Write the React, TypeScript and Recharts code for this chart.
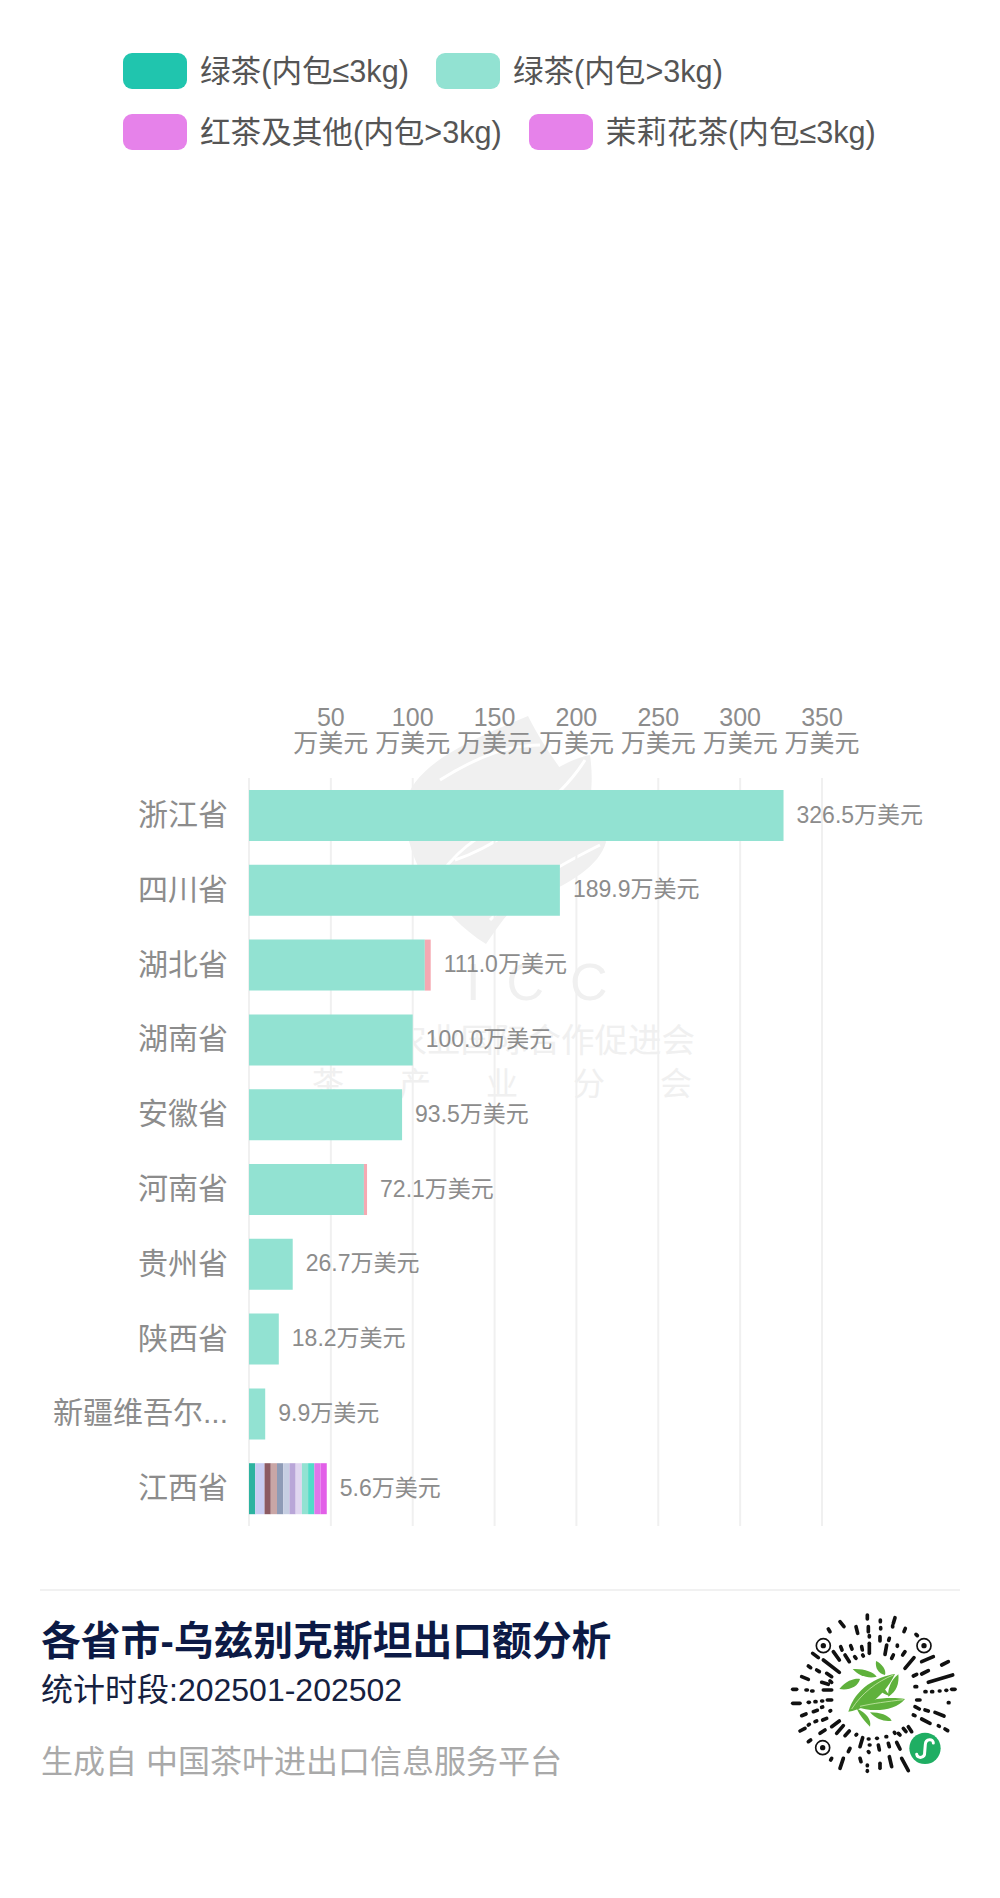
import React from 'react'
import { BarChart, Bar, XAxis, YAxis, CartesianGrid, LabelList, Legend } from 'recharts'

const FONT = '"Liberation Sans", "Noto Sans CJK SC", sans-serif'

const provinces = ['浙江省', '四川省', '湖北省', '湖南省', '安徽省', '河南省', '贵州省', '陕西省', '新疆维吾尔自治区', '江西省']
// the totals printed next to each bar
const totals = [326.5, 189.9, 111.0, 100.0, 93.5, 72.1, 26.7, 18.2, 9.9, 5.6]
const xTicks = [0, 50, 100, 150, 200, 250, 300, 350]

const greenSmall = [0, 0, 0, 0, 0, 0, 0, 0, 0, 3.8]
const lavender = [0, 0, 0, 0, 0, 0, 0, 0, 0, 5.7]
const maroon = [0, 0, 0, 0, 0, 0, 0, 0, 0, 3.8]
const rose = [0, 0, 0, 0, 0, 0, 0, 0, 0, 3.8]
const slate = [0, 0, 0, 0, 0, 0, 0, 0, 0, 3.8]
const paleSlate = [0, 0, 0, 0, 0, 0, 0, 0, 0, 3.8]
const lilac = [0, 0, 0, 0, 0, 0, 0, 0, 0, 3.8]
const paleLilac = [0, 0, 0, 0, 0, 0, 0, 0, 0, 3.8]
const greenLarge = [326.5, 189.9, 107.4, 100.0, 93.5, 70.2, 26.7, 18.2, 9.9, 3.8]
const turquoise = [0, 0, 0, 0, 0, 0, 0, 0, 0, 3.8]
const blackLarge = [0, 0, 0, 0, 0, 0, 0, 0, 0, 3.8]
const jasmineSmall = [0, 0, 0, 0, 0, 0, 0, 0, 0, 3.8]
const pink = [0, 0, 3.6, 0, 0, 1.9, 0, 0, 0, 0]

const seriesKeys = ['greenSmall', 'lavender', 'maroon', 'rose', 'slate', 'paleSlate', 'lilac', 'paleLilac', 'greenLarge', 'turquoise', 'blackLarge', 'jasmineSmall', 'pink']
const seriesColors = ['#2db3a0', '#c9ccf2', '#8c5a62', '#c9a6a6', '#8e9bb6', '#c6cee2', '#b9a6d8', '#e0d6f0', '#92e2d2', '#52dcc8', '#e076ea', '#e25fe8', '#f5a9b2']
const seriesValues = [greenSmall, lavender, maroon, rose, slate, paleSlate, lilac, paleLilac, greenLarge, turquoise, blackLarge, jasmineSmall, pink]

const legendNames = ['绿茶(内包≤3kg)', '绿茶(内包>3kg)', '红茶及其他(内包>3kg)', '茉莉花茶(内包≤3kg)']
const legendColors = ['#20c5ae', '#92e2d2', '#e682ea', '#e682ea']

const chartData = provinces.map((name, i) => {
  // anchor is a hair-thin invisible bar on the end of each stack, it only carries the label
  const row: Record<string, any> = { name, total: totals[i], anchor: 0.01 }
  seriesKeys.forEach((key, k) => {
    row[key] = seriesValues[k][i]
  })
  return row
})

const shortName = (v: string) => (v.length > 5 ? v.slice(0, 5) + '...' : v)

const TopTick = ({ x, y, payload }: any) => {
  if (payload.value === 0) return null
  return (
    <text x={x} textAnchor="middle" fill="#8c8c8c" fontSize={25} fontFamily={FONT}>
      <tspan x={x} y={y - 44}>{payload.value}</tspan>
      <tspan x={x} y={y - 18}>万美元</tspan>
    </text>
  )
}

const LegendBox = () => (
  <div style={{ display: 'flex', flexWrap: 'wrap', rowGap: 25, columnGap: 27, fontFamily: FONT, fontSize: 30.6, color: '#555' }}>
    {legendNames.map((name, i) => (
      <div key={name} style={{ display: 'flex', alignItems: 'center', height: 36 }}>
        <span style={{ width: 64, height: 36, borderRadius: 9, background: legendColors[i], marginRight: 13 }} />
        <span style={{ position: 'relative', top: -2 }}>{name}</span>
      </div>
    ))}
  </div>
)

const Watermark = () => (
  <svg width={1000} height={1200} style={{ position: 'absolute', left: 0, top: 0 }}>
    <g fill="#f0f0f0">
      <path d="M528 716 C 470 740 412 765 405 805 C 403 860 440 915 486 944 C 500 925 510 905 530 900 C 570 885 600 865 606 842 C 590 800 555 770 528 716 Z" />
      <path d="M590 755 C 560 760 500 800 480 850 C 480 880 520 880 560 860 C 590 830 595 790 590 755 Z" />
    </g>
    <g fill="none" stroke="#fff" strokeWidth={3}>
      <path d="M440 780 C 480 755 510 745 540 745" />
      <path d="M420 905 C 445 860 470 840 500 825" />
      <path d="M455 860 C 500 845 560 800 585 760" />
      <path d="M490 920 C 530 880 570 860 600 845" />
    </g>
    <g fontFamily={FONT} fill="#f0f0f0">
      <text y={1000} fontSize={52} fontWeight={300} letterSpacing={26} x={466}>ICC</text>
      <text y={1052} x={695} textAnchor="end" fontSize={33.5}>中国农业国际合作促进会</text>
      <text y={1095} x={312} fontSize={32} letterSpacing={55}>茶产业分会</text>
    </g>
  </svg>
)

const qrDashes = [
  [262, 30, 262, 42], [301, 45, 301, 50], [345, 38, 340, 55], [180, 50, 192, 65], [228, 65, 233, 85], [265, 65, 265, 80],
  [302, 68, 302, 72], [338, 62, 338, 66], [376, 70, 372, 80], [145, 72, 150, 80], [268, 92, 268, 96], [300, 95, 300, 108],
  [328, 100, 326, 106], [408, 88, 412, 92], [268, 115, 268, 145], [245, 125, 247, 135], [212, 122, 216, 132], [182, 125, 186, 135],
  [320, 120, 315, 148], [352, 120, 352, 124], [375, 140, 368, 150], [340, 150, 335, 160], [248, 150, 250, 153], [224, 155, 228, 160],
  [195, 150, 208, 170], [160, 140, 178, 165], [98, 145, 115, 158], [130, 165, 178, 202], [85, 183, 92, 188], [110, 195, 118, 200],
  [140, 205, 155, 215], [65, 215, 85, 223], [125, 232, 145, 238], [150, 228, 155, 232], [38, 253, 50, 253], [78, 255, 82, 255],
  [95, 258, 99, 258], [130, 255, 155, 255], [375, 190, 402, 158], [425, 170, 460, 155], [485, 180, 505, 170], [425, 207, 445, 197],
  [400, 213, 410, 208], [445, 232, 518, 210], [405, 245, 410, 245], [435, 260, 438, 260], [455, 260, 458, 260], [478, 258, 480, 258],
  [498, 256, 500, 256], [515, 253, 525, 253], [410, 285, 420, 285], [505, 293, 507, 293], [405, 305, 418, 312], [435, 315, 445, 318],
  [465, 322, 492, 333], [400, 330, 405, 332], [425, 342, 450, 355], [475, 362, 478, 364], [495, 372, 503, 377], [385, 365, 395, 380],
  [370, 370, 378, 380], [355, 385, 360, 390], [38, 295, 60, 295], [85, 292, 88, 292], [105, 290, 108, 290], [125, 288, 128, 288],
  [142, 285, 155, 285], [100, 320, 112, 316], [65, 332, 78, 327], [125, 307, 128, 306], [128, 345, 140, 340], [150, 318, 152, 317],
  [105, 350, 110, 348], [85, 360, 88, 358], [60, 378, 75, 370], [120, 385, 135, 375], [155, 365, 178, 348], [170, 385, 190, 362],
  [195, 392, 208, 378], [228, 390, 230, 388], [85, 410, 92, 405], [152, 465, 155, 460], [180, 490, 190, 460], [205, 440, 210, 430],
  [240, 425, 248, 398], [265, 402, 267, 402], [290, 400, 292, 400], [318, 395, 320, 395], [343, 382, 345, 385], [268, 420, 270, 420],
  [295, 420, 298, 435], [325, 415, 328, 425], [350, 412, 360, 432], [265, 440, 267, 442], [240, 460, 243, 470], [262, 480, 262, 482],
  [262, 497, 262, 499], [300, 475, 300, 490], [328, 455, 335, 485], [365, 460, 385, 497],
]
const qrFinders = [[130, 122], [432, 122], [128, 428]]
const qrLeaves = [
  'M345 207 C290 215 225 250 205 320 C270 310 320 260 345 207 Z',
  'M178 252 C200 225 225 220 240 222 C235 245 205 258 178 252 Z',
  'M218 192 C250 190 280 200 290 215 C265 222 235 212 218 192 Z',
  'M288 168 C305 175 320 195 315 210 C295 205 285 190 288 168 Z',
  'M355 208 C330 225 322 260 325 275 C350 260 358 235 355 208 Z',
  'M290 225 C300 235 320 260 330 272 C310 270 290 255 290 225 Z',
  'M375 282 C330 275 260 280 232 305 C270 322 345 320 375 282 Z',
  'M230 310 C240 335 260 355 270 365 C275 345 260 325 230 310 Z',
  'M270 322 C290 345 315 350 335 347 C325 330 300 322 270 322 Z',
]

const MiniCode = () => (
  <svg width={190} height={180} viewBox="0 0 570 540" style={{ position: 'absolute', left: 780, top: 1605 }}>
    <g stroke="#111" strokeWidth={11} strokeLinecap="round">
      {qrDashes.map((d, i) => (
        <line key={i} x1={d[0]} y1={d[1]} x2={d[2]} y2={d[3]} />
      ))}
    </g>
    {qrFinders.map((f, i) => (
      <g key={i}>
        <circle cx={f[0]} cy={f[1]} r={21} fill="none" stroke="#111" strokeWidth={5} />
        <circle cx={f[0]} cy={f[1]} r={8} fill="#111" />
      </g>
    ))}
    <g fill="#5fb13c">
      {qrLeaves.map((d, i) => (
        <path key={i} d={d} />
      ))}
    </g>
    <g fill="none" stroke="#c6e6a8" strokeWidth={2.5}>
      <path d="M340 210 C290 230 245 265 215 312" />
      <path d="M370 284 C320 290 280 295 240 304" />
    </g>
    <circle cx={435} cy={430} r={47} fill="#1fae63" />
    <path d="M410 448 C412 462 435 460 434 442 L436 418 C437 400 460 400 460 414" fill="none" stroke="#fff" strokeWidth={9} strokeLinecap="round" />
  </svg>
)

const Footer = () => (
  <div style={{ fontFamily: FONT }}>
    <div style={{ position: 'absolute', left: 40, top: 1589, width: 920, height: 2, background: '#f1f1f1' }} />
    <div style={{ position: 'absolute', left: 41, top: 1617, fontSize: 39.8, lineHeight: '48px', fontWeight: 700, color: '#0c1a45', whiteSpace: 'nowrap' }}>
      各省市-乌兹别克斯坦出口额分析
    </div>
    <div style={{ position: 'absolute', left: 41, top: 1670, fontSize: 32, lineHeight: '40px', color: '#16213f', whiteSpace: 'nowrap' }}>
      统计时段:202501-202502
    </div>
    <div style={{ position: 'absolute', left: 41, top: 1742, fontSize: 32, lineHeight: '40px', color: '#a9a9a9', whiteSpace: 'nowrap' }}>
      生成自 中国茶叶进出口信息服务平台
    </div>
  </div>
)

export default function App() {
  return (
    <div style={{ position: 'absolute', left: 0, top: 0, width: 1000, height: 1898, background: '#fff', overflow: 'hidden' }}>
      <Watermark />
      <div style={{ position: 'absolute', left: 0, top: 0 }}>
        <BarChart
          layout="vertical"
          width={1000}
          height={1600}
          data={chartData}
          margin={{ top: 688, right: 178, bottom: 74, left: 0 }}
        >
          <CartesianGrid horizontal={false} stroke="#f0f0f0" strokeWidth={2} />
          <XAxis
            type="number"
            orientation="top"
            domain={[0, 350]}
            ticks={xTicks}
            height={90}
            axisLine={false}
            tickLine={false}
            tick={<TopTick />}
            interval={0}
          />
          <YAxis
            type="category"
            dataKey="name"
            width={249}
            axisLine={false}
            tickLine={false}
            interval={0}
            tickMargin={15}
            tickFormatter={shortName}
            tick={{ fontSize: 30, fill: '#8c8c8c', fontFamily: FONT, dy: -1 }}
          />
          <Legend
            verticalAlign="middle"
            content={<LegendBox />}
            wrapperStyle={{ position: 'absolute', left: 123, top: 53, width: 800, bottom: 'auto', margin: 0 }}
          />
          {seriesKeys.map((key, k) => (
            <Bar key={key} dataKey={key} stackId="a" fill={seriesColors[k]} barSize={51} isAnimationActive={false} legendType="none" />
          ))}
          <Bar dataKey="anchor" stackId="a" fill="transparent" barSize={51} isAnimationActive={false} legendType="none">
            <LabelList
              dataKey="total"
              position="right"
              offset={13}
              formatter={(v: number) => v.toFixed(1) + '万美元'}
              fill="#8c8c8c"
              fontSize={23}
              fontFamily={FONT}
              dy={-1}
            />
          </Bar>
        </BarChart>
      </div>
      <Footer />
      <MiniCode />
    </div>
  )
}
